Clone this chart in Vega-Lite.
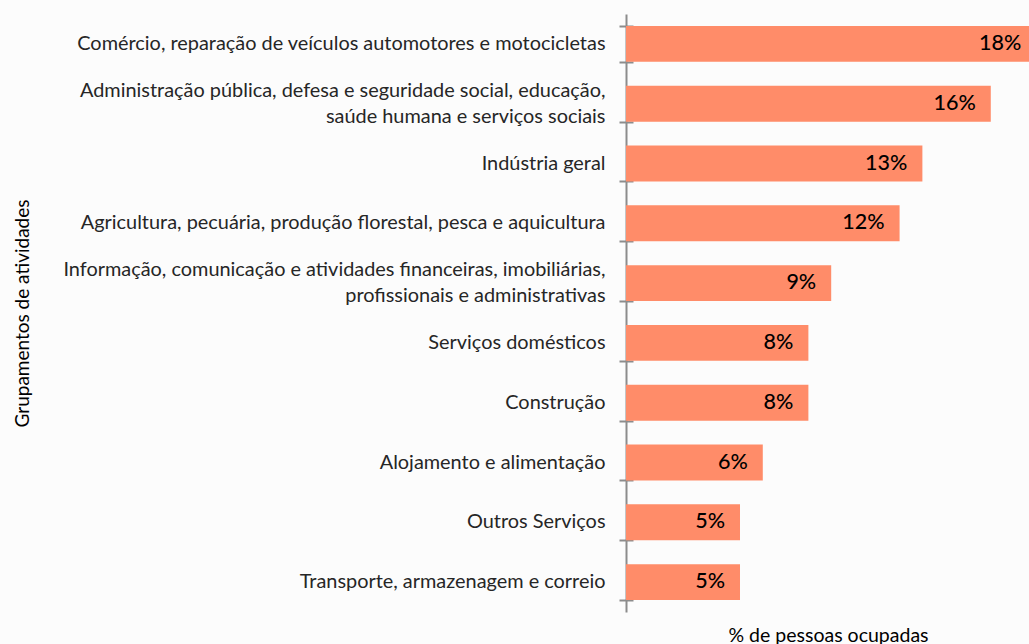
{
  "$schema": "https://vega.github.io/schema/vega-lite/v6.json",
  "width": 404,
  "height": 598,
  "autosize": {"type": "none"},
  "padding": {"left": 626, "top": 14, "right": 0, "bottom": 32},
  "background": "#FCFCFC",
  "config": {"view": {"stroke": null}, "font": "Lato"},
  "data": {
    "values": [
      {"cat": "Comércio, reparação de veículos automotores e motocicletas", "v": 18, "lbl": "18%"},
      {"cat": "Administração pública, defesa e seguridade social, educação,|saúde humana e serviços sociais", "v": 16, "lbl": "16%"},
      {"cat": "Indústria geral", "v": 13, "lbl": "13%"},
      {"cat": "Agricultura, pecuária, produção florestal, pesca e aquicultura\u00a0", "v": 12, "lbl": "12%"},
      {"cat": "Informação, comunicação e atividades financeiras, imobiliárias,|profissionais e administrativas", "v": 9, "lbl": "9%"},
      {"cat": "Serviços domésticos", "v": 8, "lbl": "8%"},
      {"cat": "Construção", "v": 8, "lbl": "8%"},
      {"cat": "Alojamento e alimentação\u00a0", "v": 6, "lbl": "6%"},
      {"cat": "Outros Serviços", "v": 5, "lbl": "5%"},
      {"cat": "Transporte, armazenagem e correio\u00a0", "v": 5, "lbl": "5%"}
    ]
  },
  "layer": [
    {
      "mark": {"type": "bar", "color": "#FF8C69"},
      "encoding": {
        "y": {
          "field": "cat", "type": "nominal", "sort": null,
          "scale": {"paddingInner": 0.4, "paddingOuter": 0.2},
          "axis": {
            "orient": "left",
            "title": "Grupamentos de atividades",
            "titleX": -604, "titleY": 299, "titleAngle": 270,
            "titleAlign": "center", "titleBaseline": "middle",
            "titleFontSize": 19, "titleFontWeight": "normal", "titleColor": "#000000", "titleFont": "Lato",
            "ticks": false,
            "domain": true, "domainColor": "#8C8C8C", "domainWidth": 2,
            "labelExpr": "split(datum.value, '|')",
            "labelFontSize": 19.9, "labelColor": "#262626", "labelFont": "Lato",
            "labelLineHeight": 26, "labelPadding": 21, "labelLimit": 700,
            "labelAlign": "right", "labelBaseline": "middle",
            "labelOffset": {"condition": {"test": "indexof(datum.value, '|') >= 0", "value": -13}, "value": 0}
          }
        },
        "x": {
          "field": "v", "type": "quantitative",
          "scale": {"domain": [0, 17.72], "nice": false},
          "axis": {
            "title": "% de pessoas ocupadas", "titleFontSize": 19.5, "titleFontWeight": "normal",
            "titleColor": "#000000", "titleY": 23, "titleBaseline": "middle",
            "labels": false, "ticks": false, "domain": false, "grid": false
          }
        }
      }
    },
    {
      "mark": {"type": "text", "align": "right", "baseline": "middle", "dx": -15, "fontSize": 21.5, "fontWeight": 500, "color": "#000000", "font": "Lato"},
      "encoding": {
        "y": {
          "field": "cat", "type": "nominal", "sort": null,
          "axis": {
            "orient": "left", "title": null, "labels": false, "domain": false,
            "ticks": true, "tickSize": 14, "tickWidth": 2, "tickColor": "#8C8C8C",
            "tickBand": "extent", "offset": -7
          }
        },
        "x": {
          "field": "v", "type": "quantitative",
          "axis": {
            "title": "% de pessoas ocupadas", "titleFontSize": 19.5, "titleFontWeight": "normal",
            "titleColor": "#000000", "titleY": 23, "titleBaseline": "middle",
            "labels": false, "ticks": false, "domain": false, "grid": false
          }
        },
        "text": {"field": "lbl", "type": "nominal"}
      }
    }
  ],
  "resolve": {"axis": {"y": "independent"}}
}
